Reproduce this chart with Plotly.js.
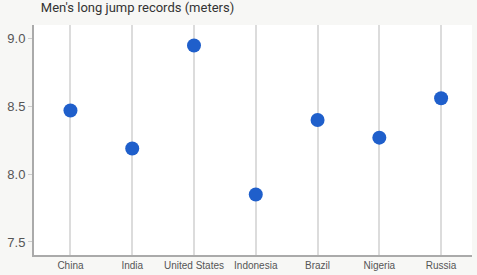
<!DOCTYPE html>
<html><head><meta charset="utf-8">
<script src="https://cdn.plot.ly/plotly-3.0.1.min.js"></script>
<style>html,body{margin:0;padding:0;background:#f7f7f5;}#chart{width:477px;height:275px;}</style>
</head><body><div id="chart"></div>
<script>
const countries = ["China","India","United States","Indonesia","Brazil","Nigeria","Russia"];
const records = [8.47, 8.19, 8.95, 7.85, 8.40, 8.27, 8.56];
const yTicks = [7.5, 8.0, 8.5, 9.0];
const yTickText = ["7.5","8.0","8.5","9.0"];
const chartTitle = "Men's long jump records (meters)";

Plotly.newPlot("chart", [{
  type: "scatter", mode: "markers",
  x: countries, y: records,
  marker: {size: 14, color: "#1f5fcb"},
  hoverinfo: "x+y"
}], {
  width: 477, height: 275,
  margin: {l: 34, r: 5, t: 25, b: 20},
  paper_bgcolor: "#f7f7f5", plot_bgcolor: "#ffffff",
  font: {family: "Arial, 'Liberation Sans', sans-serif", color: "#555"},
  title: {text: chartTitle, xref: "container", x: 137.5/477, xanchor: "center",
          yref: "container", y: 1, yanchor: "top", pad: {t: 3},
          font: {family: "Roboto, Arial, sans-serif", size: 13, color: "#333"}},
  xaxis: {type: "category", range: [-0.59, 6.5], showgrid: true, gridcolor: "#dcdcdc", gridwidth: 2,
          showline: true, linecolor: "#aaaaaa", linewidth: 2, ticks: "", tickfont: {size: 10, color: "#555"},
          zeroline: false, fixedrange: true},
  yaxis: {range: [7.404, 9.101], tickvals: yTicks, ticktext: yTickText, showgrid: false,
          showline: true, linecolor: "#aaaaaa", linewidth: 2, ticks: "outside", ticklen: 4,
          tickcolor: "#cccccc", tickfont: {size: 13, color: "#555"}, zeroline: false, fixedrange: true},
  showlegend: false
}, {displayModeBar: false});
</script></body></html>
